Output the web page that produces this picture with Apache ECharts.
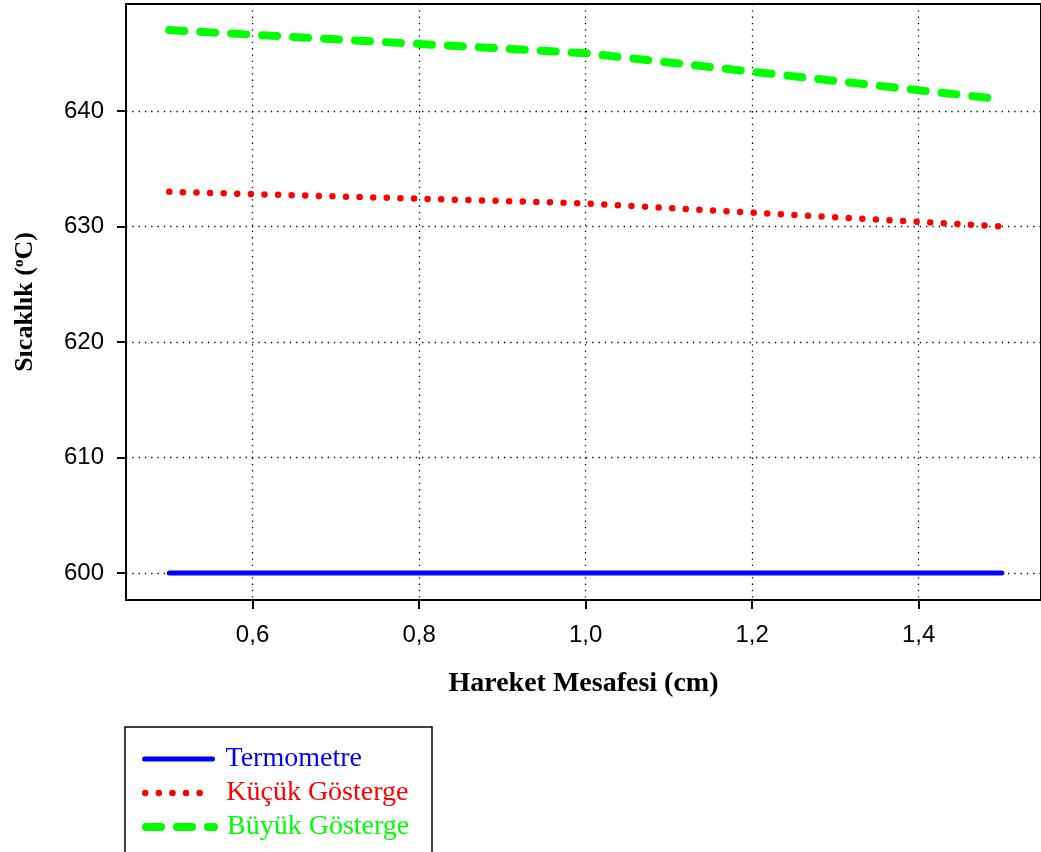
<!DOCTYPE html>
<html>
<head>
<meta charset="utf-8">
<script src="https://cdn.jsdelivr.net/npm/echarts@6/dist/echarts.min.js"></script>
<style>
  html, body { margin: 0; padding: 0; background: #fff; }
  #chart { width: 1041px; height: 852px; }
</style>
</head>
<body>
<div id="chart"></div>
<script>
// hareket mesafesi (cm)
const mesafe = [0.5, 0.6, 0.7, 0.8, 0.9, 1.0, 1.1, 1.2, 1.3, 1.4, 1.5];
// sicaklik degerleri
const termometre = [600, 600, 600, 600, 600, 600, 600, 600, 600, 600, 600];
const kucukGosterge = [633, 632.8, 632.6, 632.4, 632.2, 632.0, 631.6, 631.2, 630.8, 630.4, 630.0];
const buyukGosterge = [647, 646.6, 646.2, 645.8, 645.4, 645.0, 644.2, 643.4, 642.6, 641.8, 641.0];
const xTicks = [0.6, 0.8, 1.0, 1.2, 1.4];
const yTicks = [600, 610, 620, 630, 640];
const seriesNames = ['Termometre', 'Küçük Gösterge', 'Büyük Gösterge'];
const colors = ['#0000ff', '#ff0000', '#00ff00'];
const lineStyles = [
  { width: 5, cap: 'round', type: 'solid' },
  { width: 6.5, cap: 'round', type: [0, 13.6] },
  { width: 8, cap: 'round', type: [15, 16] }
];

const pairs = (ys) => mesafe.map((x, i) => [x, ys[i]]);

let chart = echarts.init(document.getElementById('chart'));

const gridLine = { show: true, lineStyle: { color: '#000', width: 1.3, type: [1.3, 5] } };

// one legend per row, so the rows stack like the original box
const legendRows = [759, 793, 827];
const legends = seriesNames.map((name, i) => ({
  orient: 'vertical',
  left: 142, top: legendRows[i] - 15,
  padding: 0,
  itemWidth: 68, itemHeight: 14,
  itemStyle: { opacity: 0 },
  lineStyle: Object.assign({ color: colors[i] }, lineStyles[i]),
  textStyle: { fontFamily: 'Liberation Serif', fontSize: 28, lineHeight: 30, color: colors[i], padding: [0, 0, 0, 8] },
  data: [name]
}));

let option = {
  animation: false,
  grid: {
    left: 126, top: 4, right: -4, bottom: 252,
    show: true, borderColor: '#000', borderWidth: 2
  },
  graphic: [
    {
      type: 'rect', silent: true, z: -1,
      shape: { x: 125, y: 727, width: 307, height: 150 },
      style: { fill: '#fff', stroke: '#000', lineWidth: 1.5 }
    }
  ],
  xAxis: {
    type: 'value',
    min: 0.448, max: 1.547,
    name: 'Hareket Mesafesi (cm)',
    nameLocation: 'middle',
    nameGap: 70,
    nameTextStyle: { fontFamily: 'Liberation Serif', fontWeight: 'bold', fontSize: 28, color: '#000' },
    axisLine: { lineStyle: { color: '#000', width: 2 } },
    axisTick: { customValues: xTicks, length: 9, lineStyle: { color: '#000', width: 2 } },
    axisLabel: {
      customValues: xTicks,
      margin: 23,
      fontFamily: 'Liberation Sans', fontSize: 24, color: '#000',
      formatter: (v) => v.toFixed(1).replace('.', ',')
    },
    splitLine: gridLine
  },
  yAxis: {
    type: 'value',
    min: 597.66, max: 649.26,
    name: 'Sıcaklık ({sup|o}C)',
    nameLocation: 'middle',
    nameGap: 88,
    nameTextStyle: {
      fontFamily: 'Liberation Serif', fontWeight: 'bold', fontSize: 26, color: '#000',
      rich: {
        sup: { fontFamily: 'Liberation Serif', fontWeight: 'bold', fontSize: 15, color: '#000', verticalAlign: 'top', padding: [0, 0, 10, 0] }
      }
    },
    axisLine: { lineStyle: { color: '#000', width: 2 } },
    axisTick: { customValues: yTicks, length: 9, lineStyle: { color: '#000', width: 2 } },
    axisLabel: {
      customValues: yTicks,
      margin: 22,
      fontFamily: 'Liberation Sans', fontSize: 24, color: '#000'
    },
    splitLine: gridLine
  },
  legend: legends,
  series: seriesNames.map((name, i) => ({
    name: name, type: 'line', showSymbol: false, symbol: 'none',
    color: colors[i],
    lineStyle: Object.assign({ color: colors[i] }, lineStyles[i]),
    data: pairs([termometre, kucukGosterge, buyukGosterge][i])
  }))
};

chart.setOption(option);
window.addEventListener('resize', () => { chart.resize(); });
</script>
</body>
</html>
